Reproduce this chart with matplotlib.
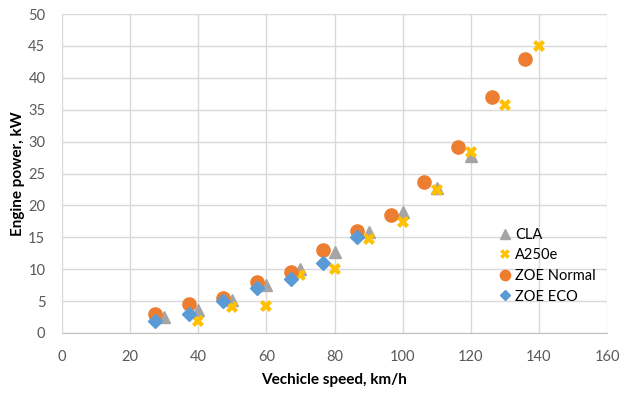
import matplotlib
matplotlib.use("Agg")
import matplotlib.pyplot as plt

cla_x = [30, 40, 50, 60, 70, 80, 90, 100, 110, 120]
cla_y = [2.5, 3.6, 5.1, 7.5, 10.0, 12.7, 15.8, 18.9, 22.7, 27.8]
a250_x = [40, 50, 60, 70, 80, 90, 100, 110, 120, 130, 140]
a250_y = [1.9, 4.0, 4.3, 9.1, 10.0, 14.8, 17.4, 22.4, 28.3, 35.8, 45.0]
zn_x = [27.3, 37.3, 47.3, 57.2, 67.1, 76.7, 86.7, 96.5, 106.3, 116.3, 126.2, 136.0]
zn_y = [3.0, 4.5, 5.5, 8.0, 9.5, 13.0, 16.0, 18.5, 23.6, 29.1, 37.0, 43.0]
ze_x = [27.3, 37.3, 47.3, 57.2, 67.1, 76.7, 86.7]
ze_y = [1.9, 3.0, 5.0, 7.0, 8.5, 11.0, 15.1]

plt.rcParams['font.family'] = ['Lato', 'DejaVu Sans']

fig = plt.figure(figsize=(6.24, 3.94), dpi=100)
ax = fig.add_axes([62/624, 61/394, 545/624, 319/394])

ax.plot(cla_x, cla_y, linestyle='none', marker='^', color='#A5A5A5', markersize=9, label='CLA')
ax.plot(a250_x, a250_y, linestyle='none', marker='X', color='#FFC000', markersize=9, markeredgewidth=0, label='A250e')
ax.plot(zn_x, zn_y, linestyle='none', marker='o', color='#ED7D31', markersize=9.5, label='ZOE Normal')
ax.plot(ze_x, ze_y, linestyle='none', marker='D', color='#5B9BD5', markersize=7, label='ZOE ECO')

ax.set_xlim(0, 160)
ax.set_ylim(0, 50)
ax.set_xticks(range(0, 161, 20))
ax.set_yticks(range(0, 51, 5))
ax.grid(True, color='#D9D9D9', linewidth=1)
ax.set_axisbelow(True)
for s in ['top', 'right', 'left']:
    ax.spines[s].set_visible(False)
ax.spines['bottom'].set_color('#BFBFBF')
ax.tick_params(axis='both', length=0, labelsize=10.5, colors='#595959', pad=12)

ax.set_xlabel('Vechicle speed, km/h', fontsize=11, fontweight='bold', color='#000000', labelpad=7)
ax.set_ylabel('Engine power, kW', fontsize=11, fontweight='bold', color='#000000', labelpad=2)

ax.legend(loc='upper left', bbox_to_anchor=(428/545, 1 - (222-14)/319), frameon=False,
          fontsize=10.5, handletextpad=0.1, labelspacing=0.45, borderaxespad=0,
          handlelength=1.2, markerscale=0.78)

fig.savefig('out.png', dpi=100)
